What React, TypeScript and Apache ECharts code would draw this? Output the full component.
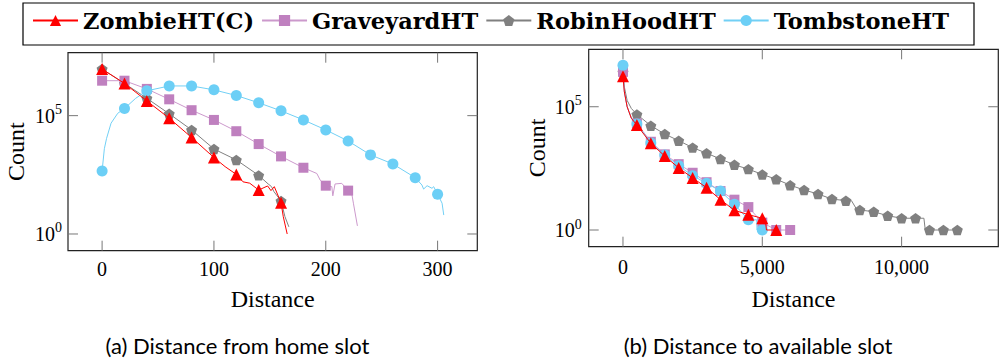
import React, { useEffect, useRef } from "react";
import * as echarts from "echarts";

// ---------- names & ticks ----------
const seriesNames = ["ZombieHT(C)", "GraveyardHT", "RobinHoodHT", "TombstoneHT"];
const homeXTicks = [0, 100, 200, 300];
const availXTicks = [0, 5000, 10000];
const countTicks = [1, 100000];
const captions = ["(a) Distance from home slot", "(b) Distance to available slot"];

// ---------- (a) Distance from home slot ----------
const homeMarkX = [0, 20, 40, 60, 80, 100, 120, 140, 160, 180, 200, 220, 240, 260, 280, 300];

const homeZombieX = [0, 20, 40, 60, 80, 100, 110, 120, 126, 132, 140, 148, 151, 154, 160, 162, 165.5];
const homeZombieY = [9.3e6, 2.3e6, 4.2e5, 7.8e4, 1.2e4, 1.7e3, 700, 330, 160, 140, 72, 107, 68, 100, 21, 5.4, 1];

const homeGraveX = [0, 20, 40, 60, 80, 100, 120, 140, 160, 180, 192, 195, 200, 205.4, 206.3, 208.3, 214.3, 220, 223.3, 224.7, 228.3];
const homeGraveY = [3.0e6, 3.0e6, 1.35e6, 4.9e5, 1.7e5, 6.6e4, 2.2e4, 6.3e3, 1.9e3, 630, 360, 190, 110, 100, 41, 130, 138, 68, 49, 20, 2.2];

const homeRobinX = [0, 20, 40, 60, 80, 100, 120, 140, 148.5, 151.5, 153.6, 160, 163.5, 167];
const homeRobinY = [9.3e6, 2.3e6, 5.4e5, 1.2e5, 2.5e4, 3.9e3, 1.35e3, 300, 130, 100, 62, 25, 5.4, 2];

const homeTombX = [0, 2, 4, 8, 14, 20, 30, 40, 60, 80, 100, 120, 140, 160, 180, 200, 220, 240, 260, 280, 286, 287.5, 290.6, 295, 296.5, 300, 304, 305.5];
const homeTombY = [457, 4.0e3, 1.1e4, 4.8e4, 1.26e5, 2.0e5, 5.4e5, 1.12e6, 1.8e6, 1.8e6, 1.23e6, 7.1e5, 3.5e5, 1.6e5, 6.6e4, 2.5e4, 8.5e3, 2.2e3, 910, 240, 117, 79, 110, 85, 100, 48, 20, 6.3];

// ---------- (b) Distance to available slot ----------
const availMarkX = [0, 500, 1000, 1500, 2000, 2500, 3000, 3500, 4000, 4500, 5000, 5500, 6000, 6500, 7000, 7500, 8000, 8500, 9000, 9500, 10000, 10500, 11000, 11500, 12000];

const availZombieX = [0, 50, 150, 300, 500, 1000, 1500, 2000, 2500, 3000, 3500, 4000, 4500, 5000, 5100, 5150, 5500];
const availZombieY = [1.74e6, 4e5, 1e5, 3.4e4, 1.8e4, 3.3e3, 1e3, 330, 130, 52, 17, 6.3, 4.2, 3, 3, 1, 1];

const availGraveX = [0, 50, 150, 300, 500, 1000, 1500, 2000, 2500, 3000, 3500, 4000, 4500, 5000, 5500, 6000];
const availGraveY = [2.6e6, 4e5, 1e5, 3.5e4, 2.1e4, 3.8e3, 1.17e3, 470, 210, 87, 38, 17, 8.5, 2, 1, 1];

const availRobinX = [0, 50, 150, 300, 500, 1000, 1500, 2000, 2500, 3000, 3500, 4000, 4500, 5000, 5500, 6000, 6500, 7000, 7500, 8000, 8200, 8400, 8500, 9000, 9500, 10000, 10500, 10800, 10850, 11000, 11500, 12000];
const availRobinY = [2.5e6, 6.3e5, 1.8e5, 8.5e4, 4.9e4, 1.7e4, 7.8e3, 4.2e3, 2.2e3, 1.3e3, 760, 440, 295, 180, 115, 66, 42, 29, 18, 15.5, 15.5, 6.5, 6.5, 5.5, 3.8, 3, 3, 3, 1, 1, 1, 1];

const availTombX = [0, 50, 150, 300, 500, 1000, 1500, 2000, 2500, 3000, 3500, 4000, 4500, 4800, 4810, 5000];
const availTombY = [4.8e6, 4e5, 1e5, 3.5e4, 2e4, 3.4e3, 1.1e3, 400, 160, 79, 38, 11, 2.6, 2.6, 1, 1];

// ---------- styling ----------
const SERIF_BOLD = "DejaVu Serif";
const SERIF = "Liberation Serif";
const SANS = "Lato";
const PENTAGON = "path://M0,-1L0.951,-0.309L0.588,0.809L-0.588,0.809L-0.951,-0.309Z";
const TICK_LEN = 10;

const styles: Record<string, any> = {
  "ZombieHT(C)": { color: "#FF0000", line: "#FF0000", symbol: "triangle", size: 12, z: 5 },
  GraveyardHT: { color: "#BF80BF", line: "#CC99CC", symbol: "rect", size: 10, z: 3 },
  RobinHoodHT: { color: "#808080", line: "#808080", symbol: PENTAGON, size: 11, z: 2 },
  TombstoneHT: { color: "#6CCFF6", line: "#72D0F5", symbol: "circle", size: 11, z: 4 },
};

function mkSeries(name: string, xs: number[], ys: number[], marks: number[], gridIdx: number) {
  const s = styles[name];
  return {
    type: "line",
    name,
    xAxisIndex: gridIdx,
    yAxisIndex: gridIdx,
    symbol: s.symbol,
    symbolSize: s.size,
    symbolKeepAspect: true,
    showAllSymbol: true,
    z: s.z,
    itemStyle: { color: s.color, opacity: 1 },
    lineStyle: { color: s.line, width: 1 },
    emphasis: { disabled: true },
    data: xs.map((x, i) =>
      marks.includes(x) ? { value: [x, ys[i]] } : { value: [x, ys[i]], symbol: "none" }
    ),
  };
}

// inner ticks on all four sides (pgfplots style), placed through the axes' scales
function tickSeries(gridIdx: number, kind: "x" | "y", values: number[], anchor: number) {
  return {
    type: "custom",
    xAxisIndex: gridIdx,
    yAxisIndex: gridIdx,
    silent: true,
    z: 1,
    clip: false,
    encode: { x: 0, y: 1 },
    data: values.map((v) => (kind === "x" ? [v, anchor] : [anchor, v])),
    renderItem: (params: any, api: any) => {
      const cs = params.coordSys;
      const p = api.coord([api.value(0), api.value(1)]);
      const style = { stroke: "#777", lineWidth: 1 };
      if (kind === "x") {
        const b = cs.y + cs.height;
        return {
          type: "group",
          children: [
            { type: "line", shape: { x1: p[0], y1: b, x2: p[0], y2: b - TICK_LEN }, style },
            { type: "line", shape: { x1: p[0], y1: cs.y, x2: p[0], y2: cs.y + TICK_LEN }, style },
          ],
        };
      }
      const r = cs.x + cs.width;
      return {
        type: "group",
        children: [
          { type: "line", shape: { x1: cs.x, y1: p[1], x2: cs.x + TICK_LEN, y2: p[1] }, style },
          { type: "line", shape: { x1: r, y1: p[1], x2: r - TICK_LEN, y2: p[1] }, style },
        ],
      };
    },
  };
}

const hiddenLine = { show: false, onZero: false };

function xAxis(gridIndex: number, min: number, max: number, ticks: number[], fmt: (v: number) => string, nameGap: number, margin: number) {
  return {
    type: "value", gridIndex, min, max, position: "bottom",
    axisLine: hiddenLine, splitLine: { show: false }, axisTick: { show: false },
    axisLabel: {
      show: true, customValues: ticks, margin,
      formatter: (v: number) => `{t|${fmt(v)}}`,
      rich: { t: { fontFamily: SERIF, fontSize: 20, color: "#000" } },
    },
    name: "{n|Distance}", nameLocation: "middle", nameGap,
    nameTextStyle: { rich: { n: { fontFamily: SERIF, fontSize: 24, color: "#000" } } },
  };
}

function yAxis(gridIndex: number, min: number, max: number, nameGap: number, margin: number) {
  return {
    type: "log", logBase: 10, gridIndex, min, max, position: "left",
    axisLine: hiddenLine, splitLine: { show: false }, minorTick: { show: false }, axisTick: { show: false },
    axisLabel: {
      show: true, customValues: countTicks, margin,
      formatter: (v: number) => `{b|10}{s|${Math.round(Math.log10(v))}}`,
      rich: {
        b: { fontFamily: SERIF, fontSize: 20, color: "#000", lineHeight: 22 },
        s: { fontFamily: SERIF, fontSize: 14, color: "#000", lineHeight: 22, padding: [0, 0, 12, 0] },
      },
    },
    name: "{n|Count}", nameLocation: "middle", nameGap,
    nameTextStyle: { rich: { n: { fontFamily: SERIF, fontSize: 24, color: "#000" } } },
  };
}

const fmtComma = (v: number) => String(v).replace(/\B(?=(\d{3})+(?!\d))/g, ",");

function buildOption() {
  return {
    animation: false,
    backgroundColor: "#fff",
    grid: [
      { left: 68, top: 52.7, width: 409.3, height: 198, show: true, borderColor: "#222", borderWidth: 1.2, backgroundColor: "transparent" },
      { left: 588.7, top: 49.3, width: 409.6, height: 197.4, show: true, borderColor: "#222", borderWidth: 1.2, backgroundColor: "transparent" },
    ],
    xAxis: [
      xAxis(0, -30.5, 335.5, homeXTicks, (v) => String(v), 36, 8),
      xAxis(1, -1230, 13470, availXTicks, fmtComma, 40, 10),
    ],
    yAxis: [
      yAxis(0, Math.pow(10, -0.706), Math.pow(10, 7.66), 40, 6),
      yAxis(1, Math.pow(10, -0.677), Math.pow(10, 7.33), 40, 7),
    ],
    legend: {
      data: seriesNames,
      left: 32, top: 9, padding: 0,
      itemWidth: 45, itemHeight: 14, itemGap: 7,
      selectedMode: false,
      textStyle: { fontFamily: SERIF_BOLD, fontWeight: "bold", fontSize: 22.5, color: "#000" },
    },
    graphic: [
      {
        type: "rect", silent: true, z: 100,
        shape: { x: 23, y: 3, width: 951, height: 42 },
        style: { fill: "none", stroke: "#000", lineWidth: 1.2 },
      },
      {
        type: "text", x: 237.5, y: 345, silent: true,
        style: { text: captions[0], fontFamily: SANS, fontSize: 22, fill: "#000", align: "center", verticalAlign: "middle", textAlign: "center", textVerticalAlign: "middle" },
      },
      {
        type: "text", x: 758, y: 345, silent: true,
        style: { text: captions[1], fontFamily: SANS, fontSize: 22, fill: "#000", align: "center", verticalAlign: "middle", textAlign: "center", textVerticalAlign: "middle" },
      },
    ],
    series: [
      tickSeries(0, "x", homeXTicks, countTicks[0]),
      tickSeries(0, "y", countTicks, homeXTicks[0]),
      tickSeries(1, "x", availXTicks, countTicks[0]),
      tickSeries(1, "y", countTicks, availXTicks[0]),
      mkSeries("RobinHoodHT", homeRobinX, homeRobinY, homeMarkX, 0),
      mkSeries("GraveyardHT", homeGraveX, homeGraveY, homeMarkX, 0),
      mkSeries("TombstoneHT", homeTombX, homeTombY, homeMarkX, 0),
      mkSeries("ZombieHT(C)", homeZombieX, homeZombieY, homeMarkX, 0),
      mkSeries("RobinHoodHT", availRobinX, availRobinY, availMarkX, 1),
      mkSeries("GraveyardHT", availGraveX, availGraveY, availMarkX, 1),
      mkSeries("TombstoneHT", availTombX, availTombY, availMarkX, 1),
      mkSeries("ZombieHT(C)", availZombieX, availZombieY, availMarkX, 1),
    ],
  };
}

export default function App() {
  const ref = useRef<HTMLDivElement>(null);
  useEffect(() => {
    if (!ref.current) return;
    const chart = echarts.init(ref.current, undefined, { renderer: "svg", width: 1000, height: 362 });
    chart.setOption(buildOption() as any);
    return () => chart.dispose();
  }, []);
  return (
    <div
      ref={ref}
      style={{ position: "absolute", left: 0, top: 0, width: 1000, height: 362, background: "#fff" }}
    />
  );
}
